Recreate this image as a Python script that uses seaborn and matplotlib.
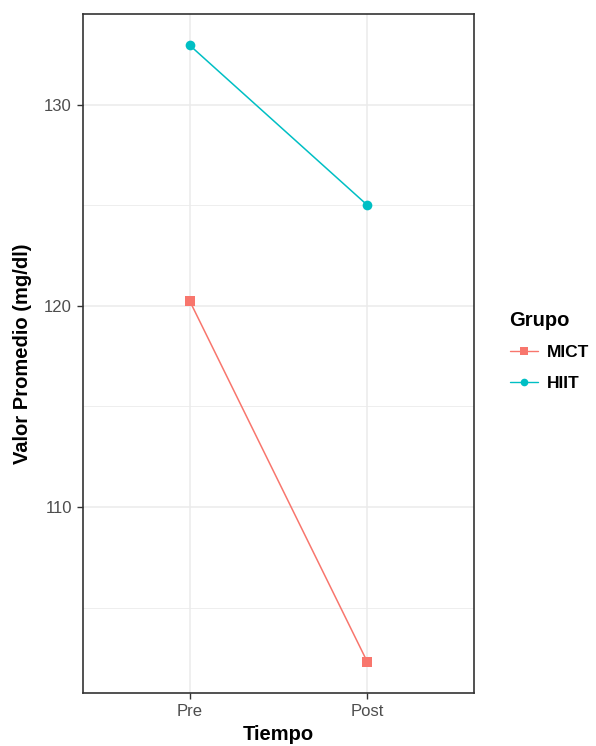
import matplotlib
matplotlib.use("Agg")
import matplotlib.pyplot as plt
import seaborn as sns
import pandas as pd
from matplotlib.lines import Line2D
from matplotlib.ticker import MultipleLocator

tiempo = ["Pre", "Post"]
grupos = ["MICT", "HIIT"]
mict_vals = [120.25, 102.3]
hiit_vals = [132.95, 125.0]

df = pd.DataFrame({
    "Tiempo": tiempo * 2,
    "Grupo": ["MICT"] * 2 + ["HIIT"] * 2,
    "Valor": mict_vals + hiit_vals,
})
df["x"] = df["Tiempo"].map({t: i for i, t in enumerate(tiempo)})

sns.set_theme(style="white")
plt.rcParams["font.family"] = ["Liberation Sans", "DejaVu Sans"]

palette = {"MICT": "#F8766D", "HIIT": "#00BFC4"}
markers = {"MICT": "s", "HIIT": "o"}

fig = plt.figure(figsize=(5.96, 7.46), dpi=100)
ax = fig.add_axes([83/596, 1 - 693/746, (474-83)/596, (693-14)/746])

sns.lineplot(data=df, x="x", y="Valor", hue="Grupo", style="Grupo",
             palette=palette, markers=markers, dashes=False,
             markersize=7, markeredgewidth=0, linewidth=1.1,
             ax=ax, legend=False, zorder=3)

ax.set_xlim(-0.6, 1.6)
ax.set_ylim(100.76, 134.5)
ax.set_xticks([0, 1])
ax.set_xticklabels(tiempo)
ax.yaxis.set_major_locator(MultipleLocator(10))
ax.yaxis.set_minor_locator(MultipleLocator(5))
ax.set_yticks([110, 120, 130])
ax.grid(True, which="major", color="#EBEBEB", linewidth=1.1, zorder=0)
ax.grid(True, which="minor", axis="y", color="#EBEBEB", linewidth=0.6, zorder=0)
ax.set_axisbelow(True)
for s in ax.spines.values():
    s.set_color("#333333")
    s.set_linewidth(1.2)
ax.tick_params(axis="both", which="major", length=4, width=1, color="#333333",
               labelsize=12, labelcolor="#4D4D4D", left=True, bottom=True, pad=4)
ax.tick_params(axis="y", which="minor", length=0)
ax.set_xlabel("Tiempo", fontsize=14.5, fontweight="bold", color="black", labelpad=4)
ax.set_ylabel("Valor Promedio (mg/dl)", fontsize=14.5, fontweight="bold", color="black", labelpad=9)

handles = [Line2D([0], [0], color=palette[g], marker=markers[g], markersize=5.5,
                  markeredgewidth=0, linewidth=1.0) for g in grupos]
leg = fig.legend(handles, grupos, title="Grupo", loc="upper left",
                 bbox_to_anchor=(494/596, 1 - 295/746), frameon=False,
                 prop={"size": 12.5, "weight": "bold"}, handlelength=1.65,
                 labelspacing=0.9, handletextpad=0.5)
leg.get_title().set_fontsize(14.5)
leg.get_title().set_fontweight("bold")
leg.get_title().set_color("black")
for t in leg.get_texts():
    t.set_color("black")
leg._legend_box.align = "left"

fig.savefig("out.png", dpi=100)
